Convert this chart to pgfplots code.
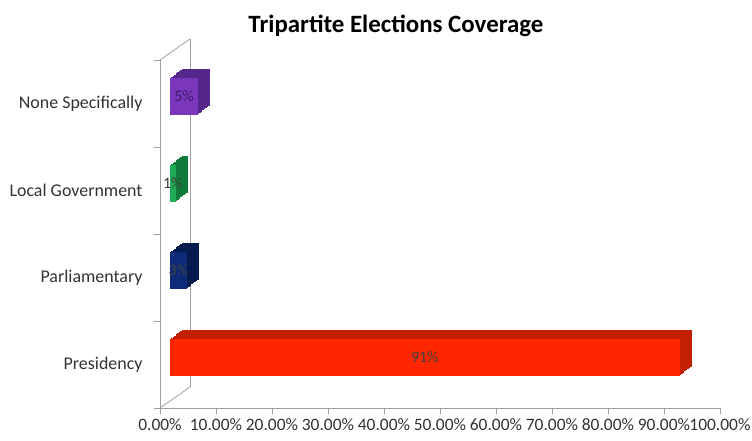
\documentclass[border=0pt]{standalone}
\usepackage{pgfplots}
\pgfplotsset{compat=1.18}
\usepackage{fontspec}
\setmainfont{Carlito}
\definecolor{pfront}{HTML}{7A37BE}
\definecolor{pdark}{HTML}{55278C}
\definecolor{gfront}{HTML}{1FAA55}
\definecolor{gdark}{HTML}{0F7A3A}
\definecolor{bfront}{HTML}{0C2A78}
\definecolor{bdark}{HTML}{061A4E}
\definecolor{rfront}{HTML}{FF2600}
\definecolor{rdark}{HTML}{C41F00}
\definecolor{axgray}{HTML}{A0A0A0}
\begin{document}
\begin{tikzpicture}
\begin{axis}[
  scale only axis,
  width=560bp, height=348bp,
  xbar, bar width=37bp, bar shift=0pt,
  xmin=0, xmax=100,
  ymin=-0.5, ymax=3.5,
  clip=false,
  axis x line*=bottom, axis y line*=left,
  axis line style={axgray, line width=0.8pt, -},
  xtick={0,10,...,100},
  xticklabels={0.00\%,10.00\%,20.00\%,30.00\%,40.00\%,50.00\%,60.00\%,70.00\%,80.00\%,90.00\%,100.00\%},
  ytick={0,1,2,3},
  yticklabels={Presidency,Parliamentary,Local Government,None Specifically},
  major tick length=6bp,
  tick align=outside,
  ytick style={draw=none},
  xtick style={draw=axgray, line width=0.8pt},
  extra y ticks={-0.5,0.5,1.5,2.5,3.5},
  extra y tick labels={},
  extra y tick style={ytick style={draw=axgray, line width=0.8pt}},
  tick label style={text=black!80},
  yticklabel style={xshift=-8bp, font=\fontsize{18}{20}\selectfont},
  xticklabel style={inner xsep=0pt, yshift=-1bp, font=\fontsize{17.5}{20}\selectfont},
  title={\textbf{Tripartite Elections Coverage}},
  title style={font=\fontsize{25}{28}\selectfont, yshift=14bp, xshift=-44bp},
]
% 3-D wall lines
\draw[axgray, line width=0.8pt] (rel axis cs:0,0) -- ++(30bp,21bp) coordinate (bb);
\draw[axgray, line width=0.8pt] (rel axis cs:0,1) -- ++(30bp,21bp) coordinate (bt);
\draw[axgray, line width=0.8pt] (bb) -- (bt);
\coordinate (O) at (rel axis cs:0,0);
% depth (extrusion)
\pgfplotsinvokeforeach{8,7,6,5,4,3,2,1}{
\addplot[fill=rdark, draw=none, xshift={(10+1.5*#1)*1bp}, yshift={(7+1.125*#1)*1bp}] coordinates {(91,0)};
\addplot[fill=bdark, draw=none, xshift={(10+1.5*#1)*1bp}, yshift={(7+1.125*#1)*1bp}] coordinates {(3,1)};
\addplot[fill=gdark, draw=none, xshift={(10+1.5*#1)*1bp}, yshift={(7+1.125*#1)*1bp}] coordinates {(1,2)};
\addplot[fill=pdark, draw=none, xshift={(10+1.5*#1)*1bp}, yshift={(7+1.125*#1)*1bp}] coordinates {(5,3)};
}
% front faces
\addplot[fill=rfront, draw=none, xshift=10bp, yshift=7bp] coordinates {(91,0)};
\addplot[fill=bfront, draw=none, xshift=10bp, yshift=7bp] coordinates {(3,1)};
\addplot[fill=gfront, draw=none, xshift=10bp, yshift=7bp] coordinates {(1,2)};
\addplot[fill=pfront, draw=none, xshift=10bp, yshift=7bp] coordinates {(5,3)};
% value labels
\addplot[draw=none, xbar=0pt, bar width=0pt, xshift=10bp, yshift=7bp,
  point meta=explicit symbolic,
  nodes near coords,
  nodes near coords align=center,
  every node near coord/.append style={anchor=center, font=\fontsize{16}{18}\selectfont, text=black!75}]
  coordinates {(45.5,0)[91\%] (1.5,1)[3\%] (0.5,2)[1\%]};
\addplot[draw=none, xbar=0pt, bar width=0pt, xshift=10bp, yshift=7bp,
  point meta=explicit symbolic,
  nodes near coords,
  nodes near coords align=center,
  every node near coord/.append style={anchor=center, font=\fontsize{16}{18}\selectfont, text=pdark!70!black}]
  coordinates {(2.5,3)[5\%]};
\end{axis}
\path (O) ++(-160bp,-33bp) rectangle ++(752bp,441bp);
\end{tikzpicture}
\end{document}
